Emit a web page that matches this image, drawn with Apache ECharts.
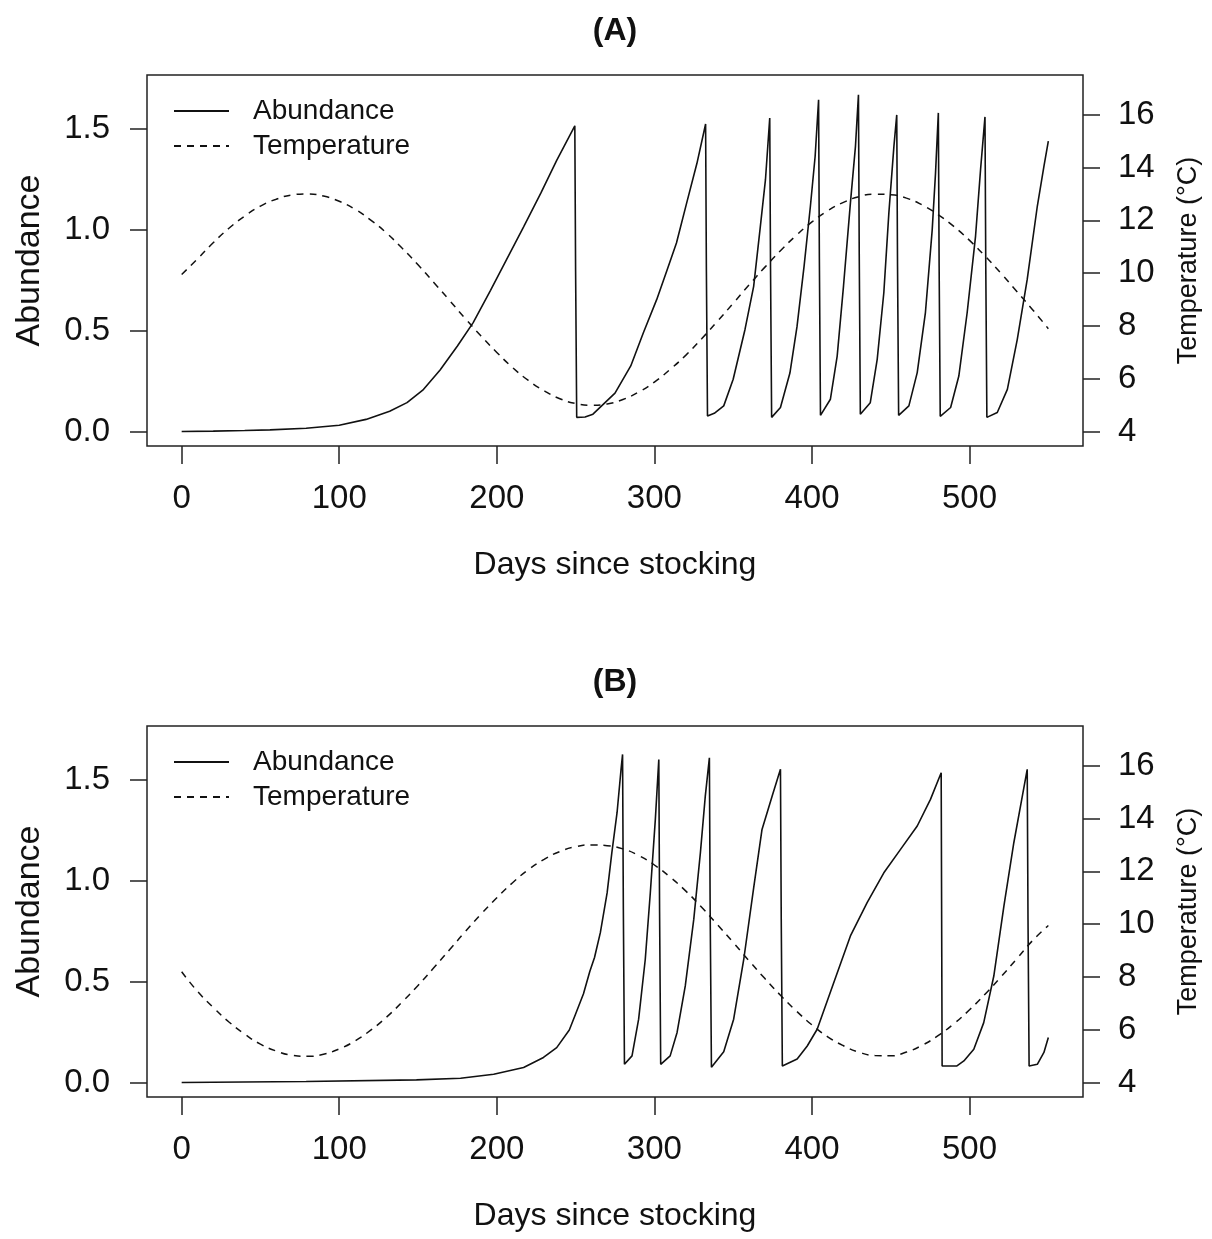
<!DOCTYPE html>
<html>
<head>
    <meta charset="utf-8"/>
    <title>Abundance and temperature</title>
    <script src="https://cdn.jsdelivr.net/npm/echarts@6/dist/echarts.min.js"></script>
    <style>
        html, body { margin: 0; padding: 0; background: #fff; }
        #chart { width: 1212px; height: 1239px; }
    </style>
</head>
<body>
<div id="chart"></div>
<script>
    // 温度曲线的日期（两个面板共用）
    var tempDays = [0, 10, 20, 30, 40, 50, 60, 70, 80, 90, 100, 110, 120, 130, 140, 150, 160, 170, 180, 190,
        200, 210, 220, 230, 240, 250, 260, 270, 280, 290, 300, 310, 320, 330, 340, 350, 360, 370, 380, 390,
        400, 410, 420, 430, 440, 450, 460, 470, 480, 490, 500, 510, 520, 530, 540, 550];

    // (A) 温度
    var tempA = [9.95, 10.54, 11.15, 11.70, 12.16, 12.54, 12.80, 12.96, 13.00, 12.92, 12.72, 12.42, 12.01, 11.52,
        10.94, 10.32, 9.65, 8.97, 8.28, 7.62, 7.00, 6.43, 5.94, 5.55, 5.25, 5.07, 5.00, 5.05, 5.22, 5.50,
        5.88, 6.36, 6.90, 7.52, 8.18, 8.86, 9.55, 10.22, 10.85, 11.43, 11.94, 12.36, 12.68, 12.90, 12.99, 12.97,
        12.84, 12.58, 12.22, 11.77, 11.24, 10.64, 9.99, 9.31, 8.62, 7.90];

    // (B) 温度
    var tempB = [8.20, 7.46, 6.85, 6.30, 5.84, 5.46, 5.20, 5.04, 5.00, 5.08, 5.28, 5.58, 5.99, 6.48,
        7.06, 7.68, 8.35, 9.03, 9.72, 10.38, 11.00, 11.57, 12.06, 12.45, 12.75, 12.93, 13.00, 12.97, 12.85, 12.60,
        12.24, 11.78, 11.25, 10.64, 9.98, 9.31, 8.62, 7.95, 7.31, 6.72, 6.19, 5.74, 5.40, 5.15, 5.03, 5.02,
        5.16, 5.42, 5.78, 6.23, 6.76, 7.36, 8.01, 8.69, 9.38, 9.95];

    // (A) 丰度
    var abundDaysA = [0, 20, 40, 56, 79, 100, 117, 132, 143, 153, 164, 175, 185, 196, 206, 217, 228, 238, 249.5,
        250, 250.7, 256, 261, 275, 285, 293, 301.5, 308, 314, 320.5, 327, 332.5,
        333, 333.7, 338, 344, 350, 357.5, 363, 367, 370.5, 373.2,
        373.7, 374.4, 380, 386, 390.5, 395, 399, 402, 404.2,
        404.7, 405.4, 411.7, 416, 420, 424.4, 427.6, 429.5,
        430, 430.7, 437, 441.4, 445.6, 448.8, 452, 453.8,
        454.3, 455, 461.5, 466.8, 472, 476.3, 478.4, 480.2,
        480.7, 481.4, 488, 493.2, 498.5, 503.8, 507, 509.8,
        510.3, 511, 517.6, 524, 530.3, 536.6, 543, 547.2, 550];
    var abundA = [0.000, 0.002, 0.005, 0.008, 0.016, 0.031, 0.060, 0.100, 0.143, 0.205, 0.305, 0.424, 0.540, 0.700, 0.850, 1.015, 1.183, 1.345, 1.516,
        0.795, 0.070, 0.072, 0.086, 0.190, 0.325, 0.490, 0.655, 0.800, 0.935, 1.134, 1.330, 1.525,
        0.795, 0.077, 0.090, 0.127, 0.259, 0.506, 0.720, 1.000, 1.250, 1.555,
        0.810, 0.070, 0.119, 0.290, 0.520, 0.820, 1.117, 1.364, 1.645,
        0.853, 0.080, 0.160, 0.374, 0.720, 1.134, 1.414, 1.670,
        0.878, 0.085, 0.143, 0.358, 0.688, 1.084, 1.414, 1.570,
        0.820, 0.080, 0.127, 0.292, 0.590, 1.000, 1.280, 1.580,
        0.820, 0.075, 0.119, 0.275, 0.590, 0.968, 1.300, 1.560,
        0.820, 0.070, 0.094, 0.209, 0.457, 0.754, 1.117, 1.315, 1.440];

    // (B) 丰度
    var abundDaysB = [0, 79, 149, 177, 198, 217, 229.6, 238, 246, 250, 255, 259, 262, 265.7, 270, 273, 276.3, 278.8, 279.8,
        280.3, 281, 285.8, 290, 294.2, 297.4, 300.6, 302.8,
        303.3, 304, 310, 314.4, 319.6, 325, 329.2, 332.3, 334.9,
        335.4, 336.2, 344, 350.3, 356.7, 363, 368.3, 374.7, 380,
        380.5, 381.2, 390.6, 397, 403.3, 413.8, 424.4, 435, 445.6, 456.2, 466.8, 475.2, 482,
        482.6, 492, 496.4, 502.7, 509, 515.4, 521.8, 528.1, 533.5, 536.6,
        537.1, 537.8, 543, 547.2, 550];
    var abundB = [0.000, 0.005, 0.013, 0.021, 0.041, 0.074, 0.124, 0.173, 0.260, 0.340, 0.440, 0.550, 0.620, 0.743, 0.940, 1.140, 1.338, 1.550, 1.627,
        0.859, 0.090, 0.132, 0.314, 0.610, 0.940, 1.305, 1.602,
        0.842, 0.090, 0.132, 0.248, 0.479, 0.810, 1.140, 1.420, 1.610,
        0.842, 0.075, 0.152, 0.314, 0.610, 0.965, 1.255, 1.420, 1.553,
        0.810, 0.082, 0.116, 0.181, 0.264, 0.495, 0.727, 0.892, 1.040, 1.156, 1.272, 1.404, 1.536,
        0.082, 0.082, 0.107, 0.165, 0.297, 0.528, 0.875, 1.189, 1.420, 1.553,
        0.810, 0.082, 0.090, 0.149, 0.223];

    // 刻度
    var dayTicks = [0, 100, 200, 300, 400, 500];
    var abundTicks = [0, 0.5, 1.0, 1.5];
    var tempTicks = [4, 6, 8, 10, 12, 14, 16];

    var font = 'Liberation Sans, Arial, sans-serif';
    var ink = '#111';

    var pairs = function (xs, ys) {
        var out = [];
        for (var i = 0; i < xs.length; i++) {
            out.push([xs[i], ys[i]]);
        }
        return out;
    };

    var panelTop = [75, 726];
    var grids = [], xAxes = [], yAxes = [], series = [], legends = [], graphics = [];

    for (var p = 0; p < 2; p++) {
        grids.push({
            left: 147, top: panelTop[p], width: 936, height: 371,
            show: true, borderColor: '#222', borderWidth: 1.5, backgroundColor: 'transparent'
        });
        xAxes.push({
            type: 'value', gridIndex: p, min: -22, max: 572, position: 'bottom',
            name: 'Days since stocking', nameLocation: 'middle', nameGap: 103,
            nameTextStyle: { fontSize: 32, color: ink, fontFamily: font },
            axisLine: { show: false, onZero: false },
            axisTick: { show: true, inside: false, length: 18, customValues: dayTicks, lineStyle: { color: '#222', width: 1.5 } },
            axisLabel: { customValues: dayTicks, fontSize: 33, color: ink, fontFamily: font, margin: 36 },
            splitLine: { show: false }
        });
        yAxes.push({
            type: 'value', gridIndex: p, position: 'left', min: -0.072, max: 1.768,
            name: 'Abundance', nameLocation: 'middle', nameGap: 100,
            nameTextStyle: { fontSize: 34, color: ink, fontFamily: font },
            axisLine: { show: false, onZero: false },
            axisTick: { show: true, inside: false, length: 17, customValues: abundTicks, lineStyle: { color: '#222', width: 1.5 } },
            axisLabel: {
                customValues: abundTicks, fontSize: 33, color: ink, fontFamily: font, margin: 37,
                formatter: function (v) { return v.toFixed(1); }
            },
            splitLine: { show: false }
        });
        yAxes.push({
            type: 'value', gridIndex: p, position: 'right', min: 3.46, max: 17.5,
            name: 'Temperature (°C)', nameLocation: 'middle', nameGap: 92,
            nameTextStyle: { fontSize: 27, color: ink, fontFamily: font },
            axisLine: { show: false, onZero: false },
            axisTick: { show: true, inside: false, length: 17, customValues: tempTicks, lineStyle: { color: '#222', width: 1.5 } },
            axisLabel: { customValues: tempTicks, fontSize: 33, color: ink, fontFamily: font, margin: 35 },
            splitLine: { show: false }
        });
        legends.push({
            data: ['Abundance', 'Temperature'],
            orient: 'vertical', left: 173, top: panelTop[p] + 22, padding: 0,
            itemWidth: 55, itemHeight: 20, itemGap: 7,
            selectedMode: false,
            itemStyle: { opacity: 0 },
            textStyle: { fontSize: 28, color: ink, fontFamily: font, lineHeight: 28, padding: [0, 0, 0, 19] }
        });
        graphics.push({
            type: 'text', x: 615, y: panelTop[p] - 44,
            style: { text: p === 0 ? '(A)' : '(B)', font: 'bold 32px ' + font, fill: ink, align: 'center', verticalAlign: 'middle' }
        });
    }

    series.push({
        name: 'Abundance', type: 'line', xAxisIndex: 0, yAxisIndex: 0, symbol: 'none',
        data: pairs(abundDaysA, abundA), lineStyle: { color: ink, width: 1.6 }, itemStyle: { color: ink }
    });
    series.push({
        name: 'Temperature', type: 'line', xAxisIndex: 0, yAxisIndex: 1, symbol: 'none', smooth: true,
        data: pairs(tempDays, tempA), lineStyle: { color: ink, width: 1.5, type: [7, 6] }, itemStyle: { color: ink }
    });
    series.push({
        name: 'Abundance', type: 'line', xAxisIndex: 1, yAxisIndex: 2, symbol: 'none',
        data: pairs(abundDaysB, abundB), lineStyle: { color: ink, width: 1.6 }, itemStyle: { color: ink }
    });
    series.push({
        name: 'Temperature', type: 'line', xAxisIndex: 1, yAxisIndex: 3, symbol: 'none', smooth: true,
        data: pairs(tempDays, tempB), lineStyle: { color: ink, width: 1.5, type: [7, 6] }, itemStyle: { color: ink }
    });

    var chart = echarts.init(document.getElementById('chart'));
    chart.setOption({
        animation: false,
        backgroundColor: '#fff',
        grid: grids,
        xAxis: xAxes,
        yAxis: yAxes,
        legend: legends,
        graphic: graphics,
        series: series
    });
</script>
</body>
</html>
